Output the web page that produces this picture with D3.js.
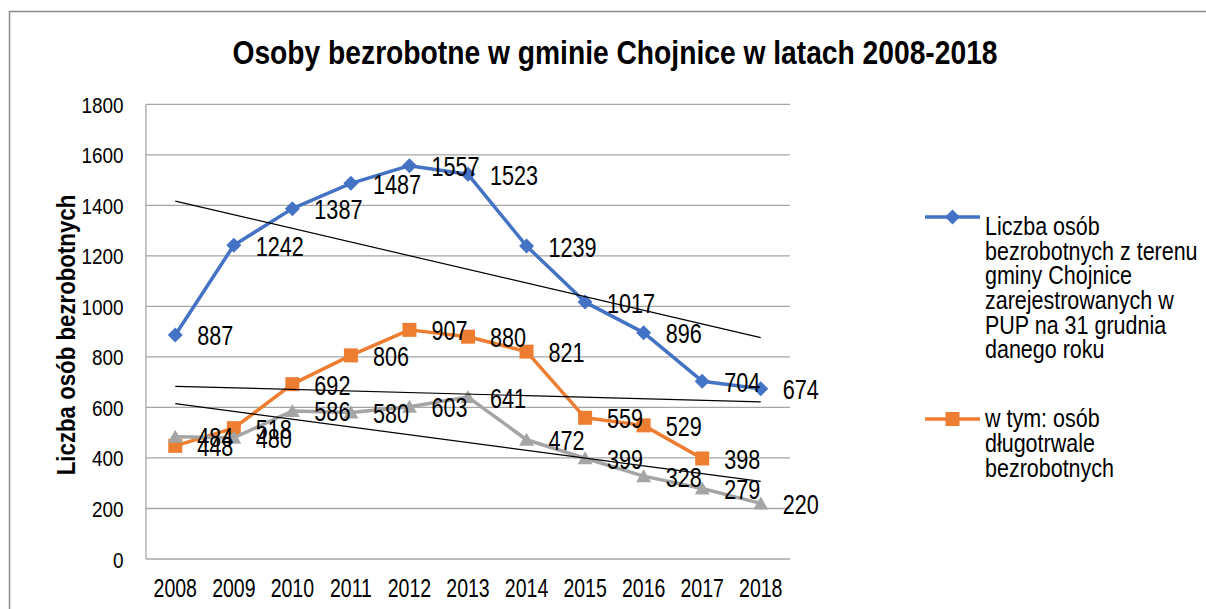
<!DOCTYPE html>
<html>
<head>
<meta charset="utf-8">
<script src="https://cdn.jsdelivr.net/npm/d3@7"></script>
<style>
  body { margin: 0; background: #fff; }
  text { font-family: "Liberation Sans", Arial, sans-serif; }
</style>
</head>
<body>
<div id="chart"></div>
<script>
var W = 1206, H = 609;

// data
var years = ["2008","2009","2010","2011","2012","2013","2014","2015","2016","2017","2018"];
var registered = [887, 1242, 1387, 1487, 1557, 1523, 1239, 1017, 896, 704, 674];
var longTerm = [448, 518, 692, 806, 907, 880, 821, 559, 529, 398];
var thirdSeries = [484, 480, 586, 580, 603, 641, 472, 399, 328, 279, 220];
var yTicks = [0, 200, 400, 600, 800, 1000, 1200, 1400, 1600, 1800];

var title = "Osoby bezrobotne w gminie Chojnice w latach 2008-2018";
var yTitle = "Liczba osób bezrobotnych";
var legendRegistered = ["Liczba osób", "bezrobotnych z terenu", "gminy Chojnice",
                        "zarejestrowanych w", "PUP na 31 grudnia", "danego roku"];
var legendLongTerm = ["w tym: osób", "długotrwale", "bezrobotnych"];

var series = [
  { values: registered, color: "#4472C4", marker: "diamond" },
  { values: longTerm, color: "#ED7D31", marker: "square" },
  { values: thirdSeries, color: "#A5A5A5", marker: "triangle" }
];

var plot = { left: 146, right: 790, top: 104.3, bottom: 559 };

var x = d3.scalePoint().domain(years).range([plot.left, plot.right]).padding(0.5);
var y = d3.scaleLinear().domain([0, 1800]).range([plot.bottom, plot.top]);

// texts in the picture are a bit narrow, so squeeze them horizontally
function place(px, py, k) {
  return "translate(" + px + "," + py + ") scale(" + k + ",1)";
}

var svg = d3.select("#chart").append("svg")
    .attr("width", W)
    .attr("height", H);

// chart frame
svg.append("rect")
    .attr("x", 9.5).attr("y", 11.5)
    .attr("width", 1300).attr("height", 800)
    .attr("fill", "#fff")
    .attr("stroke", "#8c8c8c")
    .attr("stroke-width", 1.5);

// title
svg.append("text")
    .attr("transform", place(615, 64, 0.83))
    .attr("text-anchor", "middle")
    .attr("font-size", 34)
    .attr("font-weight", "bold")
    .text(title);

// grid lines
svg.append("g").selectAll("line")
    .data(yTicks.filter(function(d){ return d > 0; }))
    .enter().append("line")
    .attr("x1", plot.left).attr("x2", plot.right)
    .attr("y1", function(d){ return y(d); })
    .attr("y2", function(d){ return y(d); })
    .attr("stroke", "#a6a6a6")
    .attr("stroke-width", 1.3);

// axes lines
svg.append("line")
    .attr("x1", plot.left).attr("x2", plot.right)
    .attr("y1", y(0)).attr("y2", y(0))
    .attr("stroke", "#a6a6a6").attr("stroke-width", 1.3);
svg.append("line")
    .attr("x1", plot.left).attr("x2", plot.left)
    .attr("y1", y(1800)).attr("y2", y(0))
    .attr("stroke", "#a6a6a6").attr("stroke-width", 1.3);

// y tick labels
svg.append("g").selectAll("text")
    .data(yTicks)
    .enter().append("text")
    .attr("transform", function(d){ return place(123.5, y(d) + 8.5, 0.86); })
    .attr("text-anchor", "end")
    .attr("font-size", 22)
    .text(function(d){ return d; });

// x tick labels
svg.append("g").selectAll("text")
    .data(years)
    .enter().append("text")
    .attr("transform", function(d){ return place(x(d), 597, 0.78); })
    .attr("text-anchor", "middle")
    .attr("font-size", 25)
    .text(function(d){ return d; });

// y axis title
svg.append("text")
    .attr("transform", "translate(75,335) rotate(-90) scale(0.89,1)")
    .attr("text-anchor", "middle")
    .attr("font-size", 25)
    .attr("font-weight", "bold")
    .text(yTitle);

function markerPath(type) {
  if (type === "diamond") return "M0,-7.5L7.5,0L0,7.5L-7.5,0Z";
  if (type === "square") return "M-7,-7H7V7H-7Z";
  return "M0,-7L7.5,6H-7.5Z";
}

var line = d3.line()
    .x(function(d, i){ return x(years[i]); })
    .y(function(d){ return y(d); });

series.forEach(function(s){
  svg.append("path")
      .datum(s.values)
      .attr("d", line)
      .attr("fill", "none")
      .attr("stroke", s.color)
      .attr("stroke-width", 3.5)
      .attr("stroke-linejoin", "round");
  svg.append("g").selectAll("path")
      .data(s.values)
      .enter().append("path")
      .attr("transform", function(d, i){ return "translate(" + x(years[i]) + "," + y(d) + ")"; })
      .attr("d", markerPath(s.marker))
      .attr("fill", s.color);
});

// linear trend lines (least squares over each series), drawn across all years
series.forEach(function(s){
  var mx = d3.mean(s.values, function(d, i){ return i; });
  var my = d3.mean(s.values);
  var sxy = d3.sum(s.values, function(d, i){ return (i - mx) * (d - my); });
  var sxx = d3.sum(s.values, function(d, i){ return (i - mx) * (i - mx); });
  var slope = sxy / sxx, icpt = my - slope * mx;
  var last = years.length - 1;
  svg.append("line")
      .attr("x1", x(years[0])).attr("y1", y(icpt))
      .attr("x2", x(years[last])).attr("y2", y(icpt + slope * last))
      .attr("stroke", "#000")
      .attr("stroke-width", 1.2);
});

// data labels
series.forEach(function(s){
  svg.append("g").selectAll("text")
      .data(s.values)
      .enter().append("text")
      .attr("transform", function(d, i){ return place(x(years[i]) + 22, y(d) + 10.5, 0.8); })
      .attr("font-size", 27)
      .attr("fill", "#000")
      .text(function(d){ return d; });
});

// legend
var legendEntries = [
  { lines: legendRegistered, color: "#4472C4", marker: "diamond", my: 217, y0: 235 },
  { lines: legendLongTerm, color: "#ED7D31", marker: "square", my: 419, y0: 427.3 }
];

legendEntries.forEach(function(e){
  var g = svg.append("g");
  g.append("line")
      .attr("x1", 925).attr("x2", 980)
      .attr("y1", e.my).attr("y2", e.my)
      .attr("stroke", e.color)
      .attr("stroke-width", 3.5);
  g.append("path")
      .attr("transform", "translate(952.5," + e.my + ")")
      .attr("d", markerPath(e.marker))
      .attr("fill", e.color);
  g.selectAll("text")
      .data(e.lines)
      .enter().append("text")
      .attr("transform", function(d, i){ return place(985, e.y0 + i * 24.65, 0.86); })
      .attr("font-size", 25)
      .text(function(d){ return d; });
});
</script>
</body>
</html>
